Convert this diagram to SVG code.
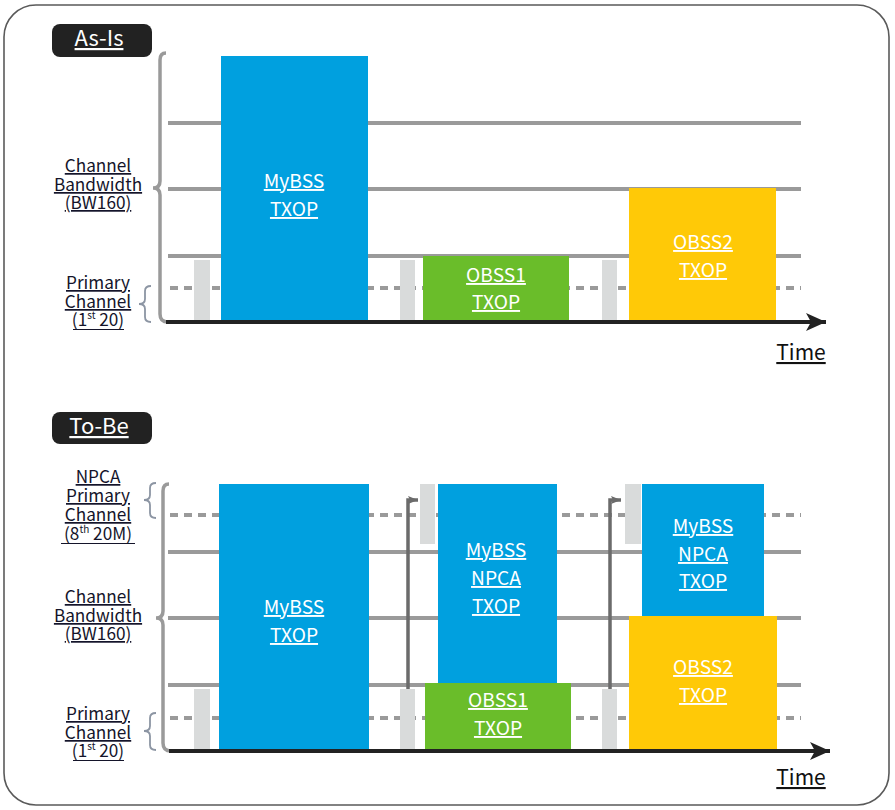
<svg xmlns="http://www.w3.org/2000/svg" width="895" height="810" viewBox="0 0 895 810">
<defs>
<style>
.frame{fill:#fff;stroke:#5a5a5a;stroke-width:1.6}
.tag{fill:#222}
.tagt{font-family:"Noto Sans CJK KR","Noto Sans",sans-serif;font-size:22px;fill:#fff;text-anchor:middle;text-decoration:underline}
.lbl{font-family:"Noto Sans CJK KR","Noto Sans",sans-serif;font-size:17.2px;fill:#14142a;text-anchor:middle;text-decoration:underline}
.nu{text-decoration:none}
.ul{stroke:#14142a;stroke-width:1.2}
.bx{font-family:"Noto Sans CJK KR","Noto Sans",sans-serif;font-size:19.2px;fill:#fff;text-anchor:middle;text-decoration:underline}
.time{font-family:"Noto Sans CJK KR","Noto Sans",sans-serif;font-size:21px;fill:#111;text-anchor:middle;text-decoration:underline}
.sl{stroke:#9a9a9a;stroke-width:4;fill:none}
.dl{stroke:#9a9a9a;stroke-width:4;fill:none;stroke-dasharray:8 6}
.brace{stroke:#9a9a9a;stroke-width:3.5;fill:none}
.sb{stroke:#8c95a3;stroke-width:1.8;fill:none}
.axis{stroke:#222;stroke-width:4;fill:none}
.ifs{fill:#d9dbdb}
.blue{fill:#00a0df}
.green{fill:#6abd2a}
.yellow{fill:#ffc907}
.conn{stroke:#6b6b6b;stroke-width:3.5;fill:none}
</style>
<marker id="ax" markerWidth="22" markerHeight="20" refX="20" refY="9" orient="auto" markerUnits="userSpaceOnUse">
<polygon points="20,9 0,0 5,9 0,18" fill="#222"/>
</marker>
<marker id="ar" markerWidth="12" markerHeight="10" refX="10" refY="4" orient="auto" markerUnits="userSpaceOnUse">
<polygon points="10,4 0,0 2,4 0,8" fill="#6b6b6b"/>
</marker>
</defs>

<rect class="frame" x="4" y="5" width="885" height="800" rx="32" ry="32"/>

<!-- As-Is section -->
<g id="asis-tag">
<rect class="tag" x="52" y="24" width="100" height="33" rx="8"/>
<text class="tagt" x="99" y="46">As-Is</text>
</g>

<g id="asis-grid">
<line class="sl" x1="168" y1="123" x2="801" y2="123"/>
<line class="sl" x1="168" y1="189" x2="801" y2="189"/>
<line class="sl" x1="168" y1="256" x2="801" y2="256"/>
<line class="dl" x1="170" y1="288" x2="801" y2="288"/>
<path class="brace" d="M166,53 Q160,53 160,60 L160,181 Q160,188 153,188 Q160,188 160,195 L160,314 Q160,322 168,322"/>
<path class="sb" d="M151,286 Q145,286 145,291 L145,299 Q145,304 139,304 Q145,304 145,309 L145,317 Q145,322 151,322"/>
</g>

<g id="asis-labels">
<text class="lbl" x="98" y="172">Channel</text>
<text class="lbl" x="98" y="191">Bandwidth</text>
<text class="lbl" x="98" y="209">(BW160)</text>
<text class="lbl" x="98" y="289">Primary</text>
<text class="lbl" x="98" y="308">Channel</text>
<text class="lbl nu" x="98" y="326">(1<tspan font-size="10" baseline-shift="super">st</tspan> 20)</text>
<line class="ul" x1="73" y1="329.5" x2="124" y2="329.5"/>
</g>

<g id="asis-ifs1"><rect class="ifs" x="194" y="260" width="16" height="61"/></g>
<g id="asis-ifs2"><rect class="ifs" x="400" y="260" width="15" height="61"/></g>
<g id="asis-ifs3"><rect class="ifs" x="602" y="260" width="15" height="61"/></g>

<g id="asis-mybss">
<rect class="blue" x="221" y="56" width="147" height="265"/>
<text class="bx" x="294" y="188">MyBSS</text>
<text class="bx" x="294" y="216">TXOP</text>
</g>
<g id="asis-obss1">
<rect class="green" x="423" y="256" width="146" height="65"/>
<text class="bx" x="496" y="282">OBSS1</text>
<text class="bx" x="496" y="309">TXOP</text>
</g>
<g id="asis-obss2">
<rect class="yellow" x="629" y="188" width="147" height="133"/>
<text class="bx" x="703" y="249">OBSS2</text>
<text class="bx" x="703" y="277">TXOP</text>
</g>

<g id="asis-axis">
<line class="axis" x1="166" y1="322" x2="826" y2="322" marker-end="url(#ax)"/>
<text class="time" x="801" y="360">Time</text>
</g>

<!-- To-Be section -->
<g id="tobe-tag">
<rect class="tag" x="52" y="412" width="100" height="32" rx="8"/>
<text class="tagt" x="99" y="434">To-Be</text>
</g>

<g id="tobe-grid">
<line class="dl" x1="170" y1="515" x2="801" y2="515"/>
<line class="sl" x1="168" y1="552" x2="801" y2="552"/>
<line class="sl" x1="168" y1="618" x2="801" y2="618"/>
<line class="sl" x1="168" y1="685" x2="801" y2="685"/>
<line class="dl" x1="170" y1="718" x2="801" y2="718"/>
<path class="brace" d="M169,484 Q163,484 163,491 L163,611 Q163,618 156,618 Q163,618 163,625 L163,743 Q163,751 171,751"/>
<path class="sb" d="M156,483 Q150,483 150,488 L150,495 Q150,500 144,500 Q150,500 150,505 L150,513 Q150,518 156,518"/>
<path class="sb" d="M156,713 Q150,713 150,718 L150,726 Q150,731 144,731 Q150,731 150,736 L150,745 Q150,750 156,750"/>
</g>

<g id="tobe-labels">
<text class="lbl" x="98" y="483">NPCA</text>
<text class="lbl" x="98" y="502">Primary</text>
<text class="lbl" x="98" y="521">Channel</text>
<text class="lbl nu" x="98" y="540">(8<tspan font-size="10" baseline-shift="super">th</tspan> 20M)</text>
<line class="ul" x1="61" y1="543.5" x2="135" y2="543.5"/>
<text class="lbl" x="98" y="603">Channel</text>
<text class="lbl" x="98" y="622">Bandwidth</text>
<text class="lbl" x="98" y="640">(BW160)</text>
<text class="lbl" x="98" y="720">Primary</text>
<text class="lbl" x="98" y="739">Channel</text>
<text class="lbl nu" x="98" y="757">(1<tspan font-size="10" baseline-shift="super">st</tspan> 20)</text>
<line class="ul" x1="73" y1="760.5" x2="124" y2="760.5"/>
</g>

<g id="tobe-ifs1"><rect class="ifs" x="194" y="689" width="16" height="61"/></g>
<g id="tobe-ifs2"><rect class="ifs" x="400" y="689" width="15" height="61"/></g>
<g id="tobe-ifs3"><rect class="ifs" x="602" y="689" width="15" height="61"/></g>
<g id="tobe-ifs4"><rect class="ifs" x="420" y="484" width="15" height="60"/></g>
<g id="tobe-ifs5"><rect class="ifs" x="625" y="484" width="16" height="60"/></g>

<g id="tobe-mybss">
<rect class="blue" x="219" y="484" width="150" height="266"/>
<text class="bx" x="294" y="614">MyBSS</text>
<text class="bx" x="294" y="642">TXOP</text>
</g>
<g id="tobe-npca1">
<rect class="blue" x="438" y="484" width="119" height="200"/>
<text class="bx" x="496" y="557">MyBSS</text>
<text class="bx" x="496" y="585">NPCA</text>
<text class="bx" x="496" y="613">TXOP</text>
</g>
<g id="tobe-obss1">
<rect class="green" x="425" y="683" width="146" height="67"/>
<text class="bx" x="498" y="707">OBSS1</text>
<text class="bx" x="498" y="735">TXOP</text>
</g>
<g id="tobe-npca2">
<rect class="blue" x="642" y="484" width="122" height="133"/>
<text class="bx" x="703" y="533">MyBSS</text>
<text class="bx" x="703" y="561">NPCA</text>
<text class="bx" x="703" y="588">TXOP</text>
</g>
<g id="tobe-obss2">
<rect class="yellow" x="629" y="616" width="148" height="134"/>
<text class="bx" x="703" y="674">OBSS2</text>
<text class="bx" x="703" y="702">TXOP</text>
</g>

<g id="connectors">
<path class="conn" d="M408,689 L408,500 L418,500" marker-end="url(#ar)"/>
<path class="conn" d="M610,689 L610,500 L621,500" marker-end="url(#ar)"/>
</g>

<g id="tobe-axis">
<line class="axis" x1="169" y1="751" x2="830" y2="751" marker-end="url(#ax)"/>
<text class="time" x="801" y="785">Time</text>
</g>
</svg>
